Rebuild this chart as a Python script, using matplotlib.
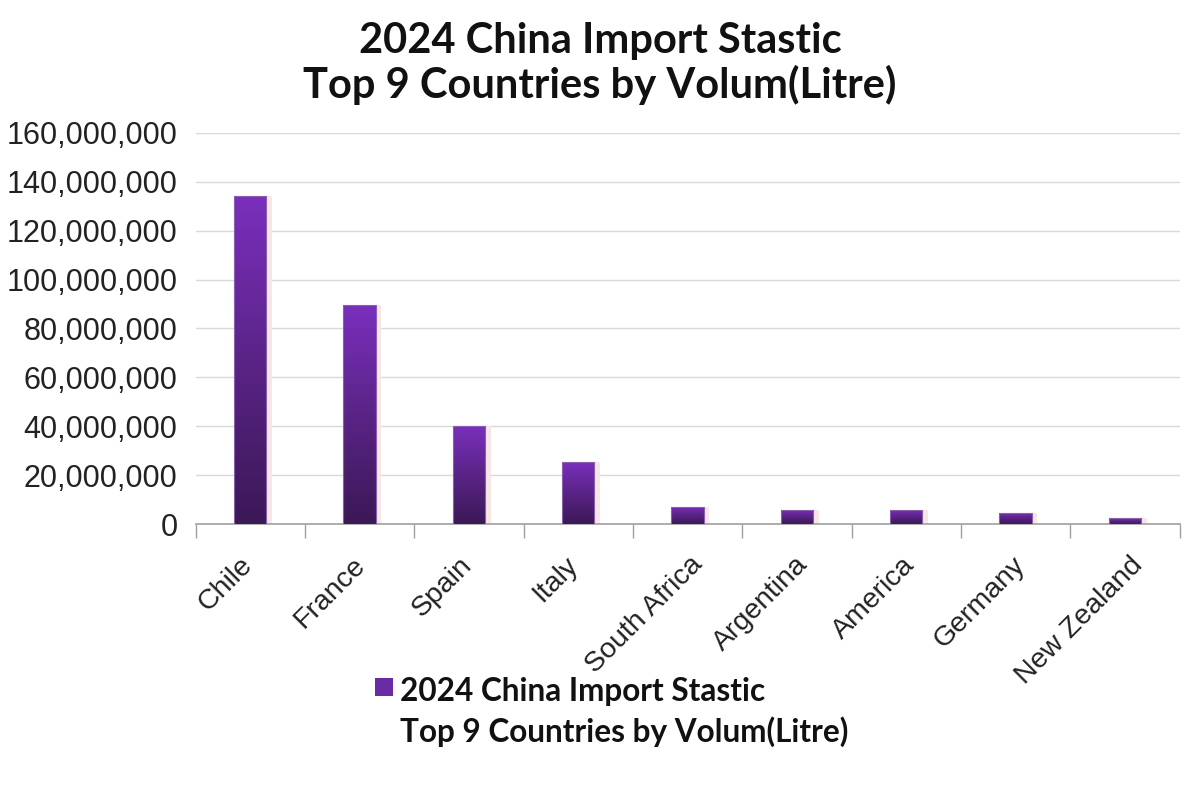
import numpy as np
import matplotlib
matplotlib.use('Agg')
import matplotlib.pyplot as plt
from matplotlib.patches import Rectangle
from matplotlib.colors import LinearSegmentedColormap
from matplotlib.ticker import FuncFormatter, FixedLocator
from matplotlib.transforms import ScaledTranslation

countries = ['Chile', 'France', 'Spain', 'Italy', 'South Africa', 'Argentina',
             'America', 'Germany', 'New Zealand']
volumes = [134_000_000, 89_500_000, 40_200_000, 25_500_000, 7_000_000,
           5_800_000, 5_800_000, 4_700_000, 2_300_000]
title = '2024 China Import Stastic\nTop 9 Countries by Volum(Litre)'

fig = plt.figure(figsize=(12, 8), dpi=100)
ax = fig.add_axes([0.163, 0.345, 0.82, 0.489])

cmap = LinearSegmentedColormap.from_list('purp', ['#3b1856', '#5a2487', '#7a2fbd'])
grad = np.linspace(0, 1, 256).reshape(-1, 1)
bw = 0.295
x = np.arange(len(countries))
for xi, v in zip(x, volumes):
    # faint shadow at the right side
    ax.add_patch(Rectangle((xi - bw / 2 + 0.05, 0), bw, v, facecolor='#f6e6e6',
                           edgecolor='none', zorder=2))
    im = ax.imshow(grad, extent=(xi - bw / 2, xi + bw / 2, 0, v), origin='lower',
                   cmap=cmap, aspect='auto', zorder=3)
    r = Rectangle((xi - bw / 2, 0), bw, v, facecolor='none', edgecolor='#8a5fb0',
                  linewidth=0.8, zorder=4)
    ax.add_patch(r)
    im.set_clip_path(r)

ax.set_xlim(-0.5, len(countries) - 0.5)
ax.set_ylim(0, 160_000_000)
ax.set_yticks(np.arange(0, 160_000_001, 20_000_000))
ax.yaxis.set_major_formatter(FuncFormatter(lambda v, p: f'{int(v):,}'))
ax.grid(axis='y', color='#d9d9d9', linewidth=1, zorder=0)
ax.set_axisbelow(True)

ax.set_xticks(x)
ax.set_xticklabels(countries, rotation=45, ha='right', rotation_mode='anchor',
                   fontsize=20.5, family='Liberation Sans', color='#222222')
ax.tick_params(axis='x', which='major', length=0, pad=20)
ax.xaxis.set_minor_locator(FixedLocator(np.arange(-0.5, len(countries), 1.0)))
ax.tick_params(axis='x', which='minor', length=10, color='#a0a0a0', width=1)
ax.tick_params(axis='y', length=0, pad=13, labelsize=22, labelcolor='#222222')
for lab in ax.get_yticklabels():
    lab.set_family('Liberation Sans')

# longer labels sit a little further right, like the original
renderer = fig.canvas.get_renderer()
for lab in ax.get_xticklabels():
    t = fig.text(0, 0, lab.get_text(), fontsize=20.5, family='Liberation Sans')
    w = t.get_window_extent(renderer).width
    t.remove()
    dx = -11 + 0.15 * (w - 65)
    lab.set_transform(lab.get_transform() + ScaledTranslation(dx / 100, 0, fig.dpi_scale_trans))

for s in ['top', 'right', 'left']:
    ax.spines[s].set_visible(False)
ax.spines['bottom'].set_color('#a0a0a0')
ax.spines['bottom'].set_linewidth(1.2)

fig.text(0.5, 0.921, title, ha='center', va='center', fontsize=30,
         fontweight='bold', family='Lato', linespacing=1.15, color='#111111')

fig.patches.append(Rectangle((0.3125, 0.13), 0.015, 0.023, facecolor='#6a2aa3',
                             edgecolor='none', transform=fig.transFigure))
fig.text(0.333, 0.11, title, ha='left', va='center', fontsize=22.7,
         fontweight='bold', family='Lato', linespacing=1.42, color='#111111')

fig.savefig('out.png', dpi=100, facecolor='white')
